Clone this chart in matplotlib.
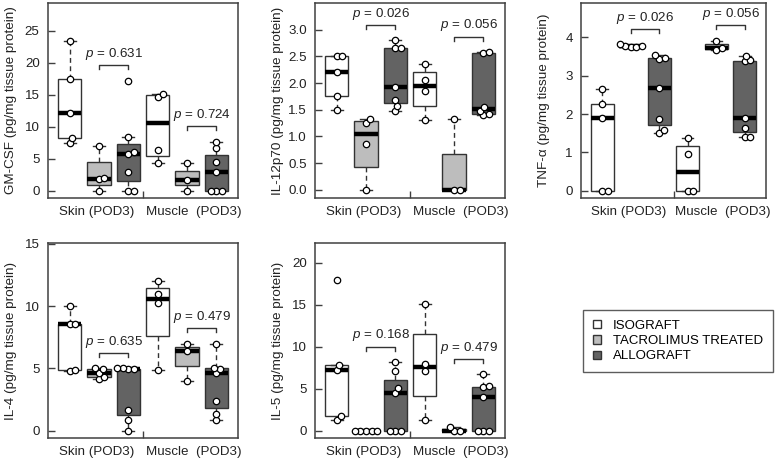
import numpy as np
import matplotlib
matplotlib.use("Agg")
import matplotlib.pyplot as plt
from matplotlib.patches import Patch
from matplotlib.transforms import blended_transform_factory

plt.rcParams["font.family"] = ["Liberation Sans", "DejaVu Sans"]
plt.rcParams["mathtext.fontset"] = "custom"
plt.rcParams["mathtext.it"] = "Liberation Sans:italic"
plt.rcParams["mathtext.rm"] = "Liberation Sans"

# ---------- data ----------
groups = ["ISOGRAFT", "TACROLIMUS TREATED", "ALLOGRAFT"]
group_colors = ["#ffffff", "#bdbdbd", "#636363"]
tissues = ["Skin (POD3)", "Muscle  (POD3)"]

# order: skin iso, skin tac, skin allo, muscle iso, muscle tac, muscle allo
gmcsf = [
    [7.5, 8.3, 12.2, 17.4, 23.4],
    [0.0, 1.8, 2.0, 6.9],
    [0.0, 0.0, 2.9, 5.8, 6.1, 8.4, 17.2],
    [4.3, 6.4, 14.7, 15.1],
    [0.0, 1.7, 4.3],
    [0.0, 0.0, 0.0, 2.9, 4.5, 6.6, 7.65],
]
il12 = [
    [1.5, 1.75, 2.2, 2.5, 2.5],
    [0.0, 0.85, 1.25, 1.33],
    [1.47, 1.57, 1.69, 1.93, 2.66, 2.66, 2.80],
    [1.30, 1.85, 2.05, 2.35],
    [0.0, 0.0, 1.33],
    [1.40, 1.42, 1.48, 1.55, 2.57, 2.58],
]
tnf = [
    [0.0, 0.0, 1.91, 2.26, 2.65],
    [3.75, 3.76, 3.77, 3.78, 3.82],
    [1.50, 1.58, 1.86, 2.69, 3.45, 3.47, 3.55],
    [0.0, 0.0, 0.96, 1.37],
    [3.68, 3.72, 3.92],
    [1.40, 1.41, 1.63, 1.91, 3.38, 3.40, 3.52],
]
il4 = [
    [4.8, 4.85, 8.55, 8.6, 10.0],
    [4.15, 4.3, 4.66, 4.96, 5.0],
    [0.0, 0.86, 1.66, 4.95, 4.97, 5.0, 5.0],
    [4.9, 10.25, 10.95, 12.05],
    [4.0, 6.4, 7.0],
    [0.86, 1.34, 2.38, 4.6, 4.95, 5.06, 7.0],
]
il5 = [
    [1.3, 1.7, 7.2, 7.8, 17.9],
    [0.0, 0.0, 0.0, 0.0, 0.0],
    [0.0, 0.0, 0.0, 4.44, 5.04, 7.14, 8.2],
    [1.27, 7.06, 8.0, 15.08],
    [0.0, 0.0, 0.45],
    [0.0, 0.0, 0.0, 3.97, 5.15, 5.3, 6.7],
]

panels = [
    dict(data=gmcsf, ylabel="GM-CSF (pg/mg tissue protein)", p=["0.631", "0.724"],
         yticks=[0, 5, 10, 15, 20, 25], ylim=(-1.14, 29.3), fmt="{:.0f}"),
    dict(data=il12, ylabel="IL-12p70 (pg/mg tissue protein)", p=["0.026", "0.056"],
         yticks=[0.0, 0.5, 1.0, 1.5, 2.0, 2.5, 3.0], ylim=(-0.155, 3.50), fmt="{:.1f}"),
    dict(data=tnf, ylabel="TNF-α (pg/mg tissue protein)", p=["0.026", "0.056"],
         yticks=[0, 1, 2, 3, 4], ylim=(-0.19, 4.9), fmt="{:.0f}"),
    dict(data=il4, ylabel="IL-4 (pg/mg tissue protein)", p=["0.635", "0.479"],
         yticks=[0, 5, 10, 15], ylim=(-0.59, 15.08), fmt="{:.0f}"),
    dict(data=il5, ylabel="IL-5 (pg/mg tissue protein)", p=["0.168", "0.479"],
         yticks=[0, 5, 10, 15, 20], ylim=(-0.87, 22.35), fmt="{:.0f}"),
]

# axes rectangles in pixels (left, top, right, bottom)
W, H = 776, 463
rects = [(48, 3, 238, 198), (315, 3, 505, 198), (581, 3, 766, 198),
         (48, 243, 238, 438), (315, 243, 505, 438)]

EDGE = "#333333"
FRAME = "#404040"
TXT = "#222222"
FS = 9.6


# ---------- helpers ----------
def fivenum(v):
    x = np.sort(np.asarray(v, float))
    n = len(x)
    n4 = np.floor((n + 3) / 2) / 2
    d = np.array([1, n4, (n + 1) / 2, n + 1 - n4, n])
    return 0.5 * (x[np.floor(d).astype(int) - 1] + x[np.ceil(d).astype(int) - 1])


def box_stats(v):
    lo, q1, med, q3, hi = fivenum(v)
    iqr = q3 - q1
    x = np.asarray(v, float)
    inside = x[(x >= q1 - 1.5 * iqr) & (x <= q3 + 1.5 * iqr)]
    return dict(med=med, q1=q1, q3=q3, whislo=inside.min(), whishi=inside.max(), fliers=[])


def swarm_offsets(ax, vals, diam):
    tr = ax.transData
    ypx = tr.transform(np.column_stack([np.zeros(len(vals)), vals]))[:, 1]
    xs = tr.transform([[1, 0]])[0, 0] - tr.transform([[0, 0]])[0, 0]
    placed = []
    offs = np.zeros(len(vals))
    for i in np.argsort(ypx, kind="stable"):
        cands = [0.0]
        for px, py in placed:
            dy = ypx[i] - py
            if abs(dy) < diam:
                dx = np.sqrt(diam ** 2 - dy ** 2)
                cands += [px + dx, px - dx]
        ok = [c for c in cands
              if all((c - px) ** 2 + (ypx[i] - py) ** 2 >= diam ** 2 - 1e-6 for px, py in placed)]
        best = min(ok, key=lambda c: (round(abs(c), 6), -c))
        placed.append((best, ypx[i]))
        offs[i] = best / xs
    return offs


# ---------- figure ----------
fig = plt.figure(figsize=(W / 100, H / 100), dpi=100)
positions = np.arange(1, 7)
colors = group_colors * 2

for pan, (l, t, r, b) in zip(panels, rects):
    ax = fig.add_axes([l / W, (H - b) / H, (r - l) / W, (b - t) / H])
    ax.set_xlim(0.26, 6.74)
    ax.set_ylim(*pan["ylim"])
    yr = pan["ylim"][1] - pan["ylim"][0]

    stats = [box_stats(v) for v in pan["data"]]
    bp = ax.bxp(stats, positions=positions, widths=0.8, patch_artist=True, showfliers=False,
                boxprops=dict(edgecolor=EDGE, linewidth=1.0),
                medianprops=dict(color="black", linewidth=3.2, solid_capstyle="butt"),
                whiskerprops=dict(color=EDGE, linewidth=1.0, linestyle=(0, (3.5, 2.5))),
                capprops=dict(color=EDGE, linewidth=1.0), manage_ticks=False)
    for patch, c in zip(bp["boxes"], colors):
        patch.set_facecolor(c)

    # points (beeswarm)
    for pos, v in zip(positions, pan["data"]):
        offs = swarm_offsets(ax, v, 5.6)
        ax.plot(pos + offs, v, "o", ms=4.6, mfc="white", mec="black", mew=0.9,
                linestyle="none", zorder=5)

    # p-value brackets between tacrolimus and allograft
    for k, pv in enumerate(pan["p"]):
        x1, x2 = positions[3 * k + 1], positions[3 * k + 2]
        top = max(max(pan["data"][3 * k + 1]), max(pan["data"][3 * k + 2])) + 0.078 * yr
        leg = 0.02 * yr
        ax.plot([x1, x1, x2, x2], [top - leg, top, top, top - leg], color=EDGE, lw=1.0)
        ax.annotate("$p$ = " + pv, xy=((x1 + x2) / 2, top), xytext=(0, 2.5),
                    textcoords="offset points", ha="center", va="bottom", fontsize=FS,
                    color=TXT)

    # axes styling
    for sp in ax.spines.values():
        sp.set_color(FRAME)
        sp.set_linewidth(1.1)
    ax.set_yticks(pan["yticks"])
    ax.set_yticklabels([pan["fmt"].format(v) for v in pan["yticks"]])
    ax.set_xticks([3.5])
    ax.set_xticklabels([""])
    ax.tick_params(direction="in", length=5, width=1.0, color=FRAME, labelsize=FS,
                   labelcolor=TXT, pad=6)
    ax.set_ylabel(pan["ylabel"], fontsize=9.7, color=TXT)
    ax.yaxis.set_label_coords(-0.165, 0.5)

    trans = blended_transform_factory(ax.transData, ax.transAxes)
    ax.text(1.92, -0.072, tissues[0], transform=trans, ha="center", va="center",
            fontsize=FS, color=TXT)
    ax.text(5.22, -0.072, tissues[1], transform=trans, ha="center", va="center",
            fontsize=FS, color=TXT)

handles = [Patch(facecolor=c, edgecolor=EDGE, linewidth=1.0) for c in group_colors]
leg = fig.legend(handles, groups, loc="upper left", bbox_to_anchor=(583 / W, 1 - 310 / H),
                 frameon=True, fancybox=False, fontsize=9.5, handlelength=0.6, handleheight=0.6,
                 handletextpad=0.9, borderpad=0.75, labelspacing=0.25, borderaxespad=0)
leg.get_frame().set_edgecolor(EDGE)
leg.get_frame().set_linewidth(1.0)

fig.savefig("out.png", dpi=100)
